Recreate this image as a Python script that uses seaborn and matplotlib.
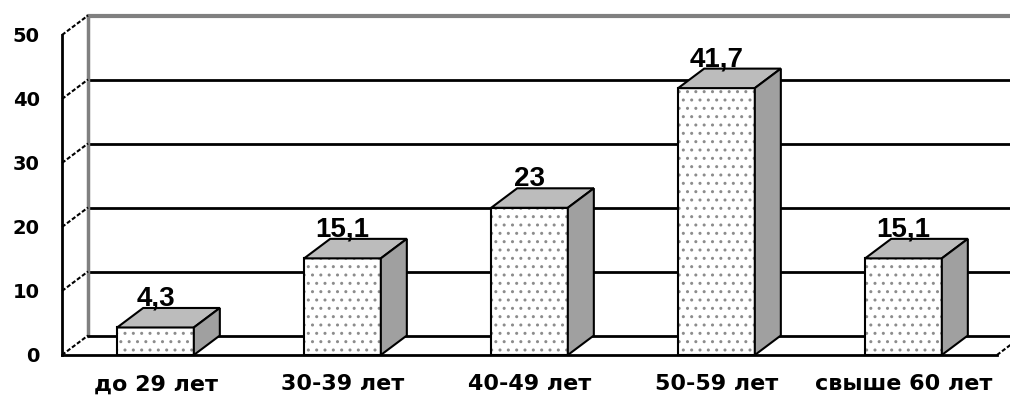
"""3D-style bar chart: age distribution (Excel-like look) with seaborn."""
import matplotlib
matplotlib.use("Agg")
import matplotlib.pyplot as plt
from matplotlib.patches import Polygon, Rectangle
import seaborn as sns

categories = ["до 29 лет", "30-39 лет", "40-49 лет", "50-59 лет", "свыше 60 лет"]
values = [4.3, 15.1, 23, 41.7, 15.1]
value_labels = ["4,3", "15,1", "23", "41,7", "15,1"]
y_ticks = [0, 10, 20, 30, 40, 50]

sns.set_style("white")
plt.rcParams["font.family"] = ["Liberation Sans", "DejaVu Sans"]
plt.rcParams["font.weight"] = "bold"
plt.rcParams["text.color"] = "black"
plt.rcParams["xtick.color"] = "black"
plt.rcParams["ytick.color"] = "black"

fig = plt.figure(figsize=(10.1, 3.97), dpi=100)
ax = fig.add_axes([62 / 1010, 42 / 397, 935 / 1010, 320 / 397])

# depth offset of the 3D box (about 26 px right, 19.5 px up)
dx = 26 / 187
dy = 19.5 / 6.4
x_left = -0.5
x_right = 5.2

# back wall and floor
for v in y_ticks[1:-1]:
    ax.plot([x_left + dx, x_right], [v + dy, v + dy], color="black", lw=2,
            clip_on=False, zorder=1)
ax.plot([x_left + dx, x_right], [50 + dy, 50 + dy], color="#808080", lw=3,
        clip_on=False, zorder=1)
ax.plot([x_left + dx, x_left + dx], [dy, 50 + dy], color="#808080", lw=2.5,
        clip_on=False, zorder=1)
ax.plot([x_left + dx, x_right], [dy, dy], color="black", lw=2,
        clip_on=False, zorder=1)
ax.plot([4.5, 4.5 + dx], [0, dy], color="black", lw=1.5, ls=(0, (2, 1)),
        clip_on=False, zorder=1)
for v in y_ticks:
    ax.plot([x_left, x_left + dx], [v, v + dy], color="black", lw=1.5,
            ls=(0, (2, 1)), clip_on=False, zorder=1)

# front faces
sns.barplot(x=categories, y=values, width=0.41, color="white",
            edgecolor="#8c8c8c", linewidth=0, hatch="..", saturation=1,
            ax=ax, zorder=3)

for patch, lab in zip(list(ax.patches), value_labels):
    x0, w, h = patch.get_x(), patch.get_width(), patch.get_height()
    ax.add_patch(Rectangle((x0, 0), w, h, fill=False, edgecolor="black",
                           lw=1.5, zorder=4, clip_on=False))
    top = Polygon([(x0, h), (x0 + w, h), (x0 + w + dx, h + dy), (x0 + dx, h + dy)],
                  closed=True, facecolor="#bcbcbc", edgecolor="black", lw=1.5,
                  zorder=4, clip_on=False)
    side = Polygon([(x0 + w, 0), (x0 + w + dx, dy), (x0 + w + dx, h + dy), (x0 + w, h)],
                   closed=True, facecolor="#a0a0a0", edgecolor="black", lw=1.5,
                   zorder=4, clip_on=False)
    ax.add_patch(top)
    ax.add_patch(side)
    ax.text(x0 + w / 2, h + dy + 0.4, lab, ha="center", va="baseline",
            fontsize=20, fontweight="bold", color="black", zorder=5)

ax.set_xlim(-0.5, 4.5)
ax.set_ylim(0, 50)
ax.set_yticks(y_ticks)
ax.set_xticks(range(len(categories)))
ax.set_xticklabels(categories, fontsize=16, fontweight="bold",
                   family=["DejaVu Sans"])
ax.set_xticks([i - 0.5 for i in range(len(categories) + 1)], minor=True)
ax.tick_params(axis="x", which="major", length=0, pad=14)
ax.tick_params(axis="x", which="minor", length=5, width=1.5, direction="out",
               color="black")
ax.tick_params(axis="y", length=7, width=2, direction="out", color="black",
               labelsize=14, pad=9)
for lab in ax.get_yticklabels():
    lab.set_fontweight("bold")
    lab.set_family(["DejaVu Sans"])
ax.set_xlabel("")
ax.set_ylabel("")
sns.despine(ax=ax, top=True, right=True)
for s in ("left", "bottom"):
    ax.spines[s].set_color("black")
    ax.spines[s].set_linewidth(2)
    ax.spines[s].set_zorder(6)

fig.savefig("out.png", dpi=100)
